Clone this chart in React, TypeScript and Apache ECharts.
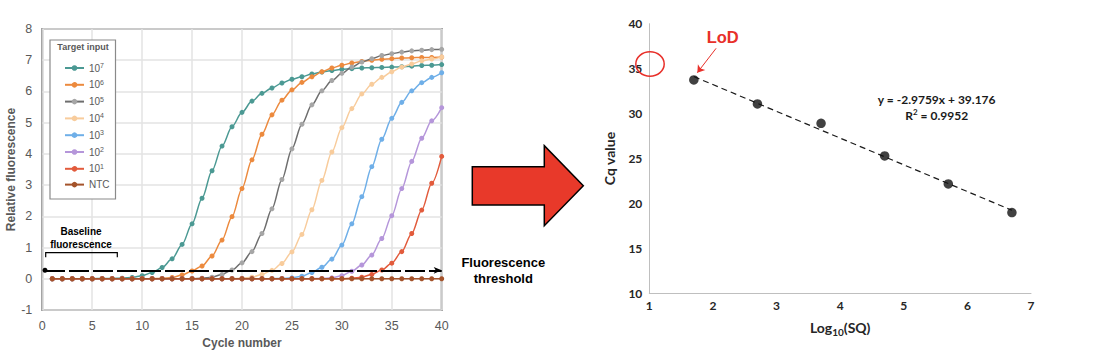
import { useEffect, useRef } from "react";
import * as echarts from "echarts";

// ---------- Left panel: amplification curves ----------
const cycles = [
  1, 2, 3, 4, 5, 6, 7, 8, 9, 10, 11, 12, 13, 14, 15, 16, 17, 18, 19, 20,
  21, 22, 23, 24, 25, 26, 27, 28, 29, 30, 31, 32, 33, 34, 35, 36, 37, 38, 39, 40,
];

const seriesNames = ["10^7", "10^6", "10^5", "10^4", "10^3", "10^2", "10^1", "NTC"];

const rfu1e7 = [
  0, 0, 0, 0, 0, 0.01, 0.01, 0.02, 0.04, 0.1, 0.2, 0.36, 0.64, 1.1, 1.76, 2.58, 3.46, 4.25, 4.87, 5.33,
  5.69, 5.94, 6.11, 6.27, 6.39, 6.47, 6.56, 6.62, 6.67, 6.71, 6.73, 6.75, 6.76, 6.77, 6.78, 6.79, 6.81, 6.83, 6.84, 6.86,
];
const rfu1e6 = [
  0, 0, 0, 0, 0, 0, 0, 0, 0, 0, 0, 0.01, 0.04, 0.12, 0.25, 0.41, 0.73, 1.24, 1.99, 2.89,
  3.81, 4.63, 5.25, 5.72, 6.05, 6.29, 6.47, 6.63, 6.75, 6.84, 6.91, 6.96, 7.0, 7.03, 7.05, 7.07, 7.08, 7.09, 7.09, 7.1,
];
const rfu1e5 = [
  0, 0, 0, 0, 0, 0, 0, 0, 0, 0, 0, 0, 0, 0, 0, 0.02, 0.05, 0.14, 0.28, 0.51,
  0.87, 1.45, 2.24, 3.18, 4.16, 4.95, 5.57, 6.02, 6.35, 6.58, 6.78, 6.94, 7.05, 7.15, 7.21, 7.26, 7.3, 7.32, 7.34, 7.35,
];
const rfu1e4 = [
  0, 0, 0, 0, 0, 0, 0, 0, 0, 0, 0, 0, 0, 0, 0, 0, 0, 0, 0, 0.02,
  0.05, 0.14, 0.27, 0.49, 0.86, 1.42, 2.21, 3.15, 4.06, 4.84, 5.45, 5.92, 6.23, 6.45, 6.63, 6.78, 6.88, 6.98, 7.04, 7.1,
];
const rfu1e3 = [
  0, 0, 0, 0, 0, 0, 0, 0, 0, 0, 0, 0, 0, 0, 0, 0, 0, 0, 0, 0,
  0, 0, 0, 0.01, 0.03, 0.08, 0.2, 0.37, 0.63, 1.08, 1.76, 2.63, 3.59, 4.47, 5.14, 5.65, 6.02, 6.28, 6.45, 6.6,
];
const rfu1e2 = [
  0, 0, 0, 0, 0, 0, 0, 0, 0, 0, 0, 0, 0, 0, 0, 0, 0, 0, 0, 0,
  0, 0, 0, 0, 0, 0, 0, 0.01, 0.03, 0.1, 0.24, 0.44, 0.76, 1.29, 2.02, 2.89, 3.76, 4.5, 5.06, 5.48,
];
const rfu1e1 = [
  0, 0, 0, 0, 0, 0, 0, 0, 0, 0, 0, 0, 0, 0, 0, 0, 0, 0, 0, 0,
  0, 0, 0, 0, 0, 0, 0, 0, 0, 0, 0.02, 0.05, 0.14, 0.28, 0.5, 0.87, 1.45, 2.2, 3.06, 3.92,
];
const rfuNTC = [
  0, 0, 0, 0, 0, 0, 0, 0, 0, 0, 0, 0, 0, 0, 0, 0, 0, 0, 0, 0,
  0, 0, 0, 0, 0, 0, 0, 0, 0, 0, 0, 0, 0, 0, 0, 0, 0, 0, 0, 0,
];
const allRfu = [rfu1e7, rfu1e6, rfu1e5, rfu1e4, rfu1e3, rfu1e2, rfu1e1, rfuNTC];

const lineColors = ["#4B9993", "#EC8A3E", "#6E6E6E", "#F8CC9C", "#6FAFE8", "#B596DA", "#E25B3C", "#A4532B"];
const markerColors = ["#4B9993", "#EC8A3E", "#A6A6A6", "#F8CC9C", "#6FAFE8", "#B596DA", "#E25B3C", "#A4532B"];

const cycleTicks = [0, 5, 10, 15, 20, 25, 30, 35, 40];
const rfuTicks = [-1, 0, 1, 2, 3, 4, 5, 6, 7, 8];
const thresholdValue = 0.27;
const thresholdStart = 0.27;

// ---------- Right panel: standard curve ----------
const log10SQ = [1.7, 2.7, 3.7, 4.7, 5.7, 6.7];
const cqValues = [33.74, 31.07, 28.92, 25.28, 22.17, 18.98];
const trendSlope = -2.9759;
const trendIntercept = 39.176;
const rSquared = 0.9952;
const trendXRange = [1.7, 6.7];
const lodArrowFrom = [2.05, 37.26];
const lodArrowTo = [1.755, 34.55];

const LEFT_FONT = "'Liberation Sans', Arial, sans-serif";
const RIGHT_FONT = "Lato, 'Open Sans', sans-serif";

export default function App() {
  const ref = useRef<HTMLDivElement>(null);

  useEffect(() => {
    if (!ref.current) return;
    const chart = echarts.init(ref.current, undefined, { renderer: "svg" });

    const curveSeries = seriesNames.map((name, i) => ({
      type: "line",
      name,
      xAxisIndex: 0,
      yAxisIndex: 0,
      data: cycles.map((c, k) => [c, allRfu[i][k]]),
      smooth: 0.3,
      smoothMonotone: "x",
      symbol: "circle",
      symbolSize: 5,
      showSymbol: true,
      lineStyle: { color: lineColors[i], width: 1.5 },
      itemStyle: { color: markerColors[i], borderWidth: 0 },
      z: 2 + i * 0.01,
    }));

    // threshold line attached to the NTC series
    (curveSeries[7] as any).markLine = {
      silent: true,
      animation: false,
      symbol: ["circle", "arrow"],
      symbolSize: [5, 8],
      label: { show: false },
      lineStyle: { color: "#000", width: 2, type: [20, 4] },
      data: [[{ coord: [thresholdStart, thresholdValue] }, { coord: [40, thresholdValue] }]],
    };

    const trendData = trendXRange.map((x) => [x, +(trendSlope * x + trendIntercept).toFixed(3)]);

    const option: any = {
      animation: false,
      backgroundColor: "#fff",
      grid: [
        { left: 42.3, top: 29, width: 399.4, height: 281, show: true, borderColor: "#7f7f7f", borderWidth: 2, backgroundColor: "transparent" },
        { left: 649.3, top: 23.7, width: 381.7, height: 269.6 },
      ],
      xAxis: [
        {
          type: "value",
          gridIndex: 0,
          min: cycleTicks[0],
          max: cycleTicks[cycleTicks.length - 1],
          interval: 5,
          axisLine: { show: false },
          axisTick: { show: false },
          axisLabel: { color: "#595959", fontSize: 12.5, fontFamily: LEFT_FONT, margin: 9 },
          splitLine: { show: true, lineStyle: { color: "#e3e3e3", width: 1.5 } },
          name: "Cycle number",
          nameLocation: "middle",
          nameGap: 25,
          nameTextStyle: { color: "#595959", fontSize: 12, fontWeight: "bold", fontFamily: LEFT_FONT },
        },
        {
          type: "value",
          gridIndex: 1,
          min: 1,
          max: 7,
          interval: 1,
          axisLine: { show: true, lineStyle: { color: "#bfbfbf", width: 1 } },
          axisTick: { show: false },
          axisLabel: { color: "#262626", fontSize: 12, fontWeight: "bold", fontFamily: RIGHT_FONT, margin: 6 },
          splitLine: { show: false },
          name: "{a|Log}{b|10}{a|(SQ)}",
          nameLocation: "middle",
          nameGap: 25,
          nameTextStyle: {
            rich: {
              a: { fontSize: 14, fontWeight: "bold", color: "#262626", fontFamily: RIGHT_FONT, lineHeight: 19 },
              b: { fontSize: 10, fontWeight: "bold", color: "#262626", fontFamily: RIGHT_FONT, lineHeight: 10, verticalAlign: "bottom" },
            },
          },
        },
      ],
      yAxis: [
        {
          type: "value",
          gridIndex: 0,
          min: rfuTicks[0],
          max: rfuTicks[rfuTicks.length - 1],
          interval: 1,
          axisLine: { show: false },
          axisTick: { show: false },
          axisLabel: { color: "#595959", fontSize: 12.5, fontFamily: LEFT_FONT, margin: 10 },
          splitLine: { show: true, lineStyle: { color: "#e3e3e3", width: 1.5 } },
          name: "Relative fluorescence",
          nameLocation: "middle",
          nameGap: 25,
          nameTextStyle: { color: "#595959", fontSize: 12, fontWeight: "bold", fontFamily: LEFT_FONT },
        },
        {
          type: "value",
          gridIndex: 1,
          min: 10,
          max: 40,
          interval: 5,
          axisLine: { show: true, lineStyle: { color: "#bfbfbf", width: 1 } },
          axisTick: { show: false },
          axisLabel: { color: "#262626", fontSize: 12, fontWeight: "bold", fontFamily: RIGHT_FONT, margin: 7 },
          splitLine: { show: false },
          name: "Cq value",
          nameLocation: "middle",
          nameGap: 33,
          nameTextStyle: { color: "#262626", fontSize: 14, fontWeight: "bold", fontFamily: RIGHT_FONT },
        },
      ],
      legend: {
        orient: "vertical",
        left: 64,
        top: 62,
        itemWidth: 19,
        itemHeight: 7,
        itemGap: 5.8,
        padding: 0,
        z: 5,
        data: seriesNames,
        formatter: (name: string) => {
          if (name.indexOf("^") < 0) return "{n|" + name + "}";
          const [base, exp] = name.split("^");
          return "{n|" + base + "}{s|" + exp + "}";
        },
        textStyle: {
          padding: [0, 0, 0, 0],
          rich: {
            n: { fontSize: 10, color: "#595959", fontFamily: LEFT_FONT, lineHeight: 12 },
            s: { fontSize: 7, color: "#595959", fontFamily: LEFT_FONT, lineHeight: 7, verticalAlign: "top" },
          },
        },
      },
      series: [
        ...curveSeries,
        {
          type: "line",
          name: "trend",
          xAxisIndex: 1,
          yAxisIndex: 1,
          data: trendData,
          showSymbol: false,
          symbol: "none",
          lineStyle: { color: "#1a1a1a", width: 1.2, type: [6, 4] },
          z: 2,
        },
        {
          type: "scatter",
          name: "Cq",
          xAxisIndex: 1,
          yAxisIndex: 1,
          data: log10SQ.map((x, i) => [x, cqValues[i]]),
          symbolSize: 9.5,
          itemStyle: { color: "#111" },
          z: 3,
          markLine: {
            silent: true,
            animation: false,
            symbol: ["none", "arrow"],
            symbolSize: 7,
            label: { show: false },
            lineStyle: { color: "#E8302A", width: 1, type: "solid" },
            data: [[{ coord: lodArrowFrom }, { coord: lodArrowTo }]],
          },
        },
      ],
      graphic: [
        // legend box
        {
          type: "rect",
          z: 1,
          shape: { x: 50, y: 40, width: 65.5, height: 159 },
          style: { fill: "#fff", stroke: "#8a8a8a", lineWidth: 1.2 },
        },
        {
          type: "text",
          z: 6,
          x: 83,
          y: 47,
          style: { text: "Target input", fontSize: 9, fontWeight: "bold", fill: "#595959", fontFamily: LEFT_FONT, align: "center", verticalAlign: "middle" },
        },
        // baseline bracket
        {
          type: "polyline",
          z: 6,
          shape: { points: [[45.7, 257.3], [45.7, 252.7], [117.3, 252.7], [117.3, 257.3]] },
          style: { stroke: "#000", lineWidth: 1.2, fill: "none" },
        },
        {
          type: "text",
          z: 6,
          x: 81,
          y: 231.7,
          style: { text: "Baseline", fontSize: 10, fontWeight: "bold", fill: "#000", fontFamily: LEFT_FONT, align: "center", verticalAlign: "middle" },
        },
        {
          type: "text",
          z: 6,
          x: 81,
          y: 244,
          style: { text: "fluorescence", fontSize: 10, fontWeight: "bold", fill: "#000", fontFamily: LEFT_FONT, align: "center", verticalAlign: "middle" },
        },
        // threshold label
        {
          type: "text",
          z: 6,
          x: 503.3,
          y: 262.3,
          style: { text: "Fluorescence", fontSize: 13, fontWeight: "bold", fill: "#000", fontFamily: LEFT_FONT, align: "center", verticalAlign: "middle" },
        },
        {
          type: "text",
          z: 6,
          x: 503.3,
          y: 278,
          style: { text: "threshold", fontSize: 13, fontWeight: "bold", fill: "#000", fontFamily: LEFT_FONT, align: "center", verticalAlign: "middle" },
        },
        // big red arrow
        {
          type: "polygon",
          z: 6,
          shape: {
            points: [[472.3, 166.7], [544.3, 166.7], [544.3, 145.7], [583.3, 185.7], [544.3, 225.7], [544.3, 205], [472.3, 205]],
          },
          style: { fill: "#E8392A", stroke: "#000", lineWidth: 1.5 },
        },
        // LoD annotation
        {
          type: "text",
          z: 6,
          x: 722.7,
          y: 36.7,
          style: { text: "LoD", fontSize: 16.5, fontWeight: "bold", fill: "#E8302A", fontFamily: LEFT_FONT, align: "center", verticalAlign: "middle" },
        },
        {
          type: "ellipse",
          z: 6,
          shape: { cx: 650, cy: 64, rx: 14.2, ry: 12.2 },
          style: { fill: "none", stroke: "#E8302A", lineWidth: 1.5 },
        },
        // regression equation
        {
          type: "text",
          z: 6,
          x: 936.7,
          y: 99,
          style: {
            text: "y = " + trendSlope + "x + " + trendIntercept,
            fontSize: 12,
            fontWeight: "bold",
            fill: "#1a1a1a",
            fontFamily: RIGHT_FONT,
            align: "center",
            verticalAlign: "middle",
          },
        },
        {
          type: "text",
          z: 6,
          x: 936.7,
          y: 115,
          style: {
            text: "{m|R}{s|2}{m| = " + rSquared + "}",
            align: "center",
            verticalAlign: "middle",
            rich: {
              m: { fontSize: 12, fontWeight: "bold", fill: "#1a1a1a", color: "#1a1a1a", fontFamily: RIGHT_FONT, lineHeight: 14 },
              s: { fontSize: 8, fontWeight: "bold", fill: "#1a1a1a", color: "#1a1a1a", fontFamily: RIGHT_FONT, lineHeight: 8, verticalAlign: "top" },
            },
          },
        },
      ],
    };

    chart.setOption(option);
    return () => chart.dispose();
  }, []);

  return (
    <div
      ref={ref}
      style={{ position: "absolute", left: 0, top: 0, width: 1120, height: 362, background: "#fff" }}
    />
  );
}
